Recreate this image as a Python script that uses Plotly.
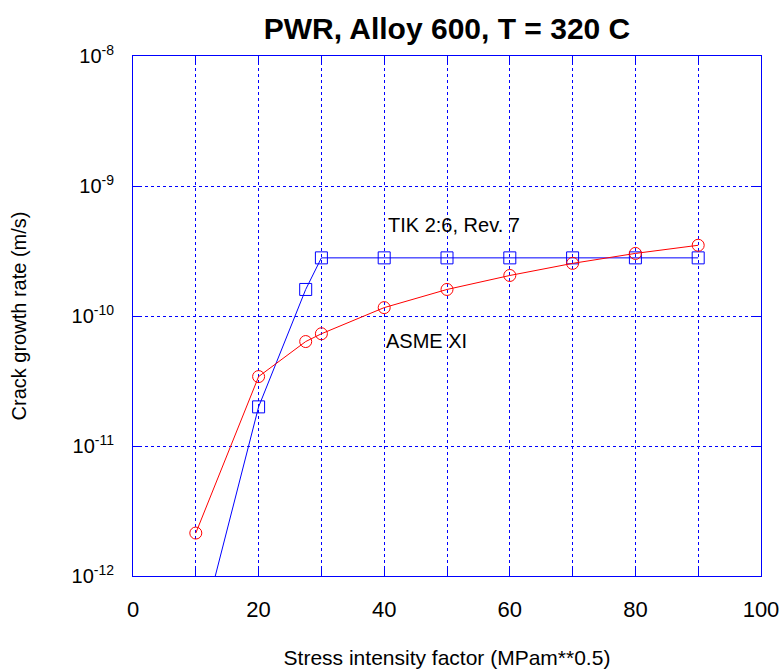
import plotly.graph_objects as go

# Data
tik_x = [10, 20, 27.5, 30, 40, 50, 60, 70, 80, 90]
tik_y = [2.6e-13, 2.0e-11, 1.6e-10, 2.8e-10, 2.8e-10, 2.8e-10, 2.8e-10, 2.8e-10, 2.8e-10, 2.8e-10]
asme_x = [10, 20, 27.5, 30, 40, 50, 60, 70, 80, 90]
asme_y = [2.14e-12, 3.42e-11, 6.36e-11, 7.3e-11, 1.16e-10, 1.6e-10, 2.05e-10, 2.54e-10, 3.03e-10, 3.5e-10]
y_tickvals = [1e-12, 1e-11, 1e-10, 1e-9, 1e-8]
y_ticktext = ["10<sup>-12</sup>", "10<sup>-11</sup>", "10<sup>-10</sup>", "10<sup>-9</sup>", "10<sup>-8</sup>"]
x_tickvals = [0, 20, 40, 60, 80, 100]

L, R, T, B = 133, 20, 56, 93
W, H = 781, 669
FAM = "Liberation Sans, Arial, sans-serif"

fig = go.Figure()
fig.add_trace(go.Scatter(
    x=tik_x, y=tik_y, mode="lines+markers",
    line=dict(color="#0000ff", width=1),
    marker=dict(symbol="square-open", size=12, color="#0000ff", line=dict(width=1)),
    cliponaxis=True, showlegend=False))
fig.add_trace(go.Scatter(
    x=asme_x, y=asme_y, mode="lines+markers",
    line=dict(color="#ff0000", width=1),
    marker=dict(symbol="circle-open", size=12, color="#ff0000", line=dict(width=1)),
    cliponaxis=True, showlegend=False))

fig.add_annotation(x=40, y=-9.302, text="TIK 2:6, Rev. 7", showarrow=False,
                   xanchor="left", yanchor="middle", xshift=2, font=dict(family=FAM, size=20, color="black"))
fig.add_annotation(x=40, y=-10.19, text="ASME XI", showarrow=False,
                   xanchor="left", yanchor="middle", xshift=0, font=dict(family=FAM, size=20, color="black"))

fig.update_layout(
    width=W, height=H,
    margin=dict(l=L, r=R, t=T, b=B),
    paper_bgcolor="white", plot_bgcolor="white",
    font=dict(family=FAM, size=20, color="black"),
    title=dict(text="<b>PWR, Alloy 600, T = 320 C</b>", x=(L + W - R) / 2 / W, xanchor="center",
               y=1 - 28 / H, yanchor="middle", font=dict(family=FAM, size=30, color="black")),
)
fig.update_xaxes(
    range=[0, 100], tickvals=x_tickvals, ticks="inside", ticklen=8, tickcolor="#0000ff",
    showline=True, linecolor="#0000ff", linewidth=1, mirror="allticks",
    showgrid=True, gridcolor="#0000ff", griddash="dot", gridwidth=1,
    minor=dict(dtick=10, showgrid=True, gridcolor="#0000ff", griddash="dot", ticks="inside", ticklen=8, tickcolor="#0000ff"),
    zeroline=False, ticklabelstandoff=14, tickfont=dict(family=FAM, size=22, color="black"),
    automargin=False,
    title=dict(text="Stress intensity factor (MPam**0.5)", standoff=30, font=dict(family=FAM, size=21, color="black")),
)
fig.update_yaxes(
    type="log", range=[-12, -8], tickvals=y_tickvals, ticktext=y_ticktext,
    ticks="inside", ticklen=8, tickcolor="#0000ff",
    showline=True, linecolor="#0000ff", linewidth=1, mirror="allticks",
    showgrid=True, gridcolor="#0000ff", griddash="dot", gridwidth=1,
    zeroline=False, ticklabelstandoff=14, tickfont=dict(family=FAM, size=20, color="black"),
    automargin=False,
    title=dict(text="Crack growth rate (m/s)", standoff=39, font=dict(family=FAM, size=20, color="black")),
)

fig.write_html("out.html")
